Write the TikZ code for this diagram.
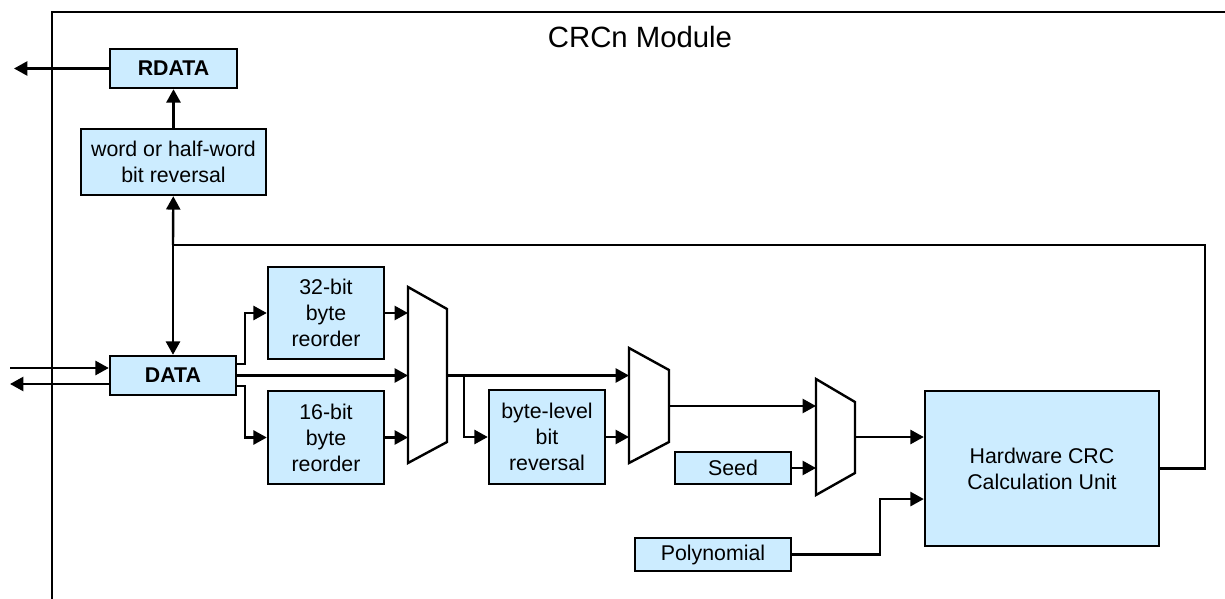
\documentclass[tikz,border=0pt]{standalone}
\usepackage{fontspec}
\setmainfont{Liberation Sans}
\usetikzlibrary{arrows.meta,calc}
\definecolor{blueB}{HTML}{CCECFF}
\definecolor{inkK}{HTML}{000000}

\begin{document}
\begin{tikzpicture}[x=0.75pt,y=-0.75pt,>={Triangle[length=10pt,width=10.5pt]},
  line width=1.8pt,line join=miter,
  blk/.style={draw=inkK,fill=blueB,line width=1.8pt,align=center,inner sep=0pt,
              font=\fontsize{16}{19.5}\selectfont},
  blkb/.style={blk,font=\fontsize{16}{19.5}\selectfont\bfseries},
  muxline/.style={draw=inkK,fill=white,line width=1.8pt}]
  \useasboundingbox (0,0) rectangle (1225,599);
  % module frame
  \draw[inkK,line width=1.6pt] (52,599) -- (52,12) -- (1225,12);
  \node[font=\fontsize{22}{26}\selectfont] (title) at (640,37) {CRCn Module};
  % blocks
  \node[blkb,minimum width=95.25pt,minimum height=29.25pt] (rdata) at (173.5,68.5) {RDATA};
  \node[blk,minimum width=138.75pt,minimum height=49.5pt] (wordrev) at (173.5,162) {word or half-word\\bit reversal};
  \node[blkb,minimum width=94.5pt,minimum height=29.25pt] (data) at (173,375.5) {DATA};
  \node[blk,minimum width=87pt,minimum height=69pt] (reo32) at (326,313) {32-bit\\byte\\reorder};
  \node[blk,minimum width=87pt,minimum height=69.75pt] (reo16) at (326,437.5) {16-bit\\byte\\reorder};
  \node[blk,minimum width=87pt,minimum height=70.5pt] (bytelev) at (547,437) {byte-level\\bit\\reversal};
  \node[blk,minimum width=87pt,minimum height=24pt] (seed) at (733,468) {Seed};
  \node[blk,minimum width=117pt,minimum height=24.75pt] (poly) at (713,554.5) {Polynomial};
  \node[blk,minimum width=175.5pt,minimum height=116.25pt] (crc) at (1042,468.5) {Hardware CRC\\Calculation Unit};
  % multiplexers
  \draw[muxline] (408,287) -- (447,309) -- (447,442) -- (408,463) -- cycle;
  \draw[muxline] (629,348) -- (669,370) -- (669,442) -- (629,463) -- cycle;
  \draw[muxline] (816,379) -- (855,402) -- (855,473) -- (816,495) -- cycle;
  \coordinate (m1a) at (408,313);
  \coordinate (m1b) at (408,375.5);
  \coordinate (m1c) at (408,437.5);
  \coordinate (m1out) at (447,375.5);
  \coordinate (m2a) at (629,375.5);
  \coordinate (m2b) at (629,437);
  \coordinate (m2out) at (669,406);
  \coordinate (m3a) at (816,406);
  \coordinate (m3b) at (816,468);
  \coordinate (m3out) at (855,437);
  \coordinate (din) at (10,368);
  \coordinate (dout) at (10,384);
  \coordinate (rout) at (14,68.5);
  \coordinate (fbj) at (173,245);
  \coordinate (fbr) at (1205,245);
  % connectors
  \draw[->] (rdata) -- (rout);
  \draw[->] (wordrev) -- (rdata);
  \draw[->] (fbj) -- (wordrev);
  \draw[->] (fbj) -- (data);
  \draw (crc.east) -| (fbr) -- (fbj);
  \draw[->] (din) -- (din -| data.west);
  \draw[->] (dout -| data.west) -- (dout);
  \draw[->] ([yshift=8.6pt]data.east) -- ++(8,0) |- (reo32.west);
  \draw[->] ([yshift=-7.9pt]data.east) -- ++(8,0) |- (reo16.west);
  \draw[->] (data.east) -- (m1b);
  \draw[->] (reo32.east) -- (m1a);
  \draw[->] (reo16.east) -- (m1c);
  \draw[->] (m1out) -- (m2a);
  \draw[->] ($(m1out)+(17,0)$) |- (bytelev.west);
  \draw[->] (bytelev.east) -- (m2b);
  \draw[->] (m2out) -- (m3a);
  \draw[->] (seed.east) -- (m3b);
  \draw[->] (m3out) -- (m3out -| crc.west);
  \draw[->] (poly.east) -- ++(88,0) |- ([yshift=-22.9pt]crc.west);
\end{tikzpicture}
\end{document}
